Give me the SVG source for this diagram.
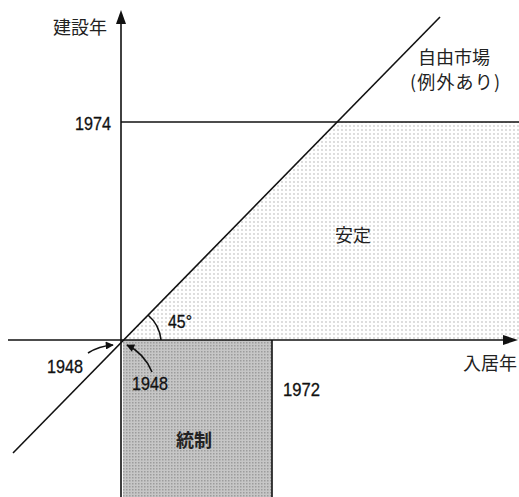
<svg xmlns="http://www.w3.org/2000/svg" width="519" height="497" viewBox="0 0 519 497">
<style>
.ln{stroke:#111;stroke-width:1.6;fill:none}
.jp{font-family:"Noto Sans CJK JP","Noto Sans",sans-serif;font-size:18px;fill:#222}
.num{font-family:"Liberation Sans",Arial,sans-serif;font-size:19px;fill:#111;stroke:#111;stroke-width:0.3}
</style>
<defs>
<pattern id="light" width="4" height="4" patternUnits="userSpaceOnUse">
<rect width="4" height="4" fill="#fff"/>
<circle cx="2" cy="2" r="0.9" fill="#cfcfcf"/>
</pattern>
<pattern id="dark" width="3" height="3" patternUnits="userSpaceOnUse">
<rect width="3" height="3" fill="#c6c6c6"/>
<rect x="0" y="0" width="1.5" height="1.5" fill="#9c9c9c"/>
</pattern>
<marker id="ah" viewBox="0 0 10 10" refX="9" refY="5" markerWidth="9" markerHeight="8" orient="auto" markerUnits="userSpaceOnUse">
<path d="M0,0 L10,5 L0,10 z" fill="#111"/>
</marker>
</defs>
<g id="regions">
<g id="stable"><polygon points="337,122 519,122 519,340 123,340" fill="url(#light)"/></g>
<g id="control"><rect x="123" y="340" width="149" height="157" fill="url(#dark)"/></g>
</g>
<g id="connectors">
<line class="ln" x1="121" y1="497" x2="121" y2="20"/>
<path d="M116,24 L121,10 L126,24 z" fill="#111"/>
<line class="ln" x1="8" y1="340" x2="505" y2="340"/>
<path d="M503,335 L518,340 L503,345 z" fill="#111"/>
<line class="ln" x1="121" y1="122" x2="519" y2="122"/>
<line class="ln" x1="272" y1="340" x2="272" y2="497"/>
<line class="ln" x1="13" y1="453" x2="440" y2="17"/>
<path class="ln" d="M161,340 A38,38 0 0 0 148,315"/>
<path class="ln" d="M88,353 Q99,346 113,345" marker-end="url(#ah)" stroke-width="1.4"/>
<path class="ln" d="M152,372 Q144,353 127,345" marker-end="url(#ah)" stroke-width="1.4"/>
</g>
<g id="labels">
<text class="jp" x="53" y="34">建設年</text>
<text class="num" x="75" y="130" textLength="36" lengthAdjust="spacingAndGlyphs">1974</text>
<text class="jp" x="418" y="64">自由市場</text>
<text class="jp" x="410" y="89" textLength="90" lengthAdjust="spacing">(例外あり)</text>
<text class="jp" x="335" y="242">安定</text>
<text class="num" x="168" y="328" textLength="24" lengthAdjust="spacingAndGlyphs">45°</text>
<text class="num" x="47" y="373" textLength="36" lengthAdjust="spacingAndGlyphs">1948</text>
<text class="num" x="132" y="390" textLength="36" lengthAdjust="spacingAndGlyphs">1948</text>
<text class="num" x="283" y="396" textLength="37" lengthAdjust="spacingAndGlyphs">1972</text>
<text class="jp" x="463" y="370">入居年</text>
<text class="jp" x="176" y="447" font-weight="bold">統制</text>
</g>
</svg>
